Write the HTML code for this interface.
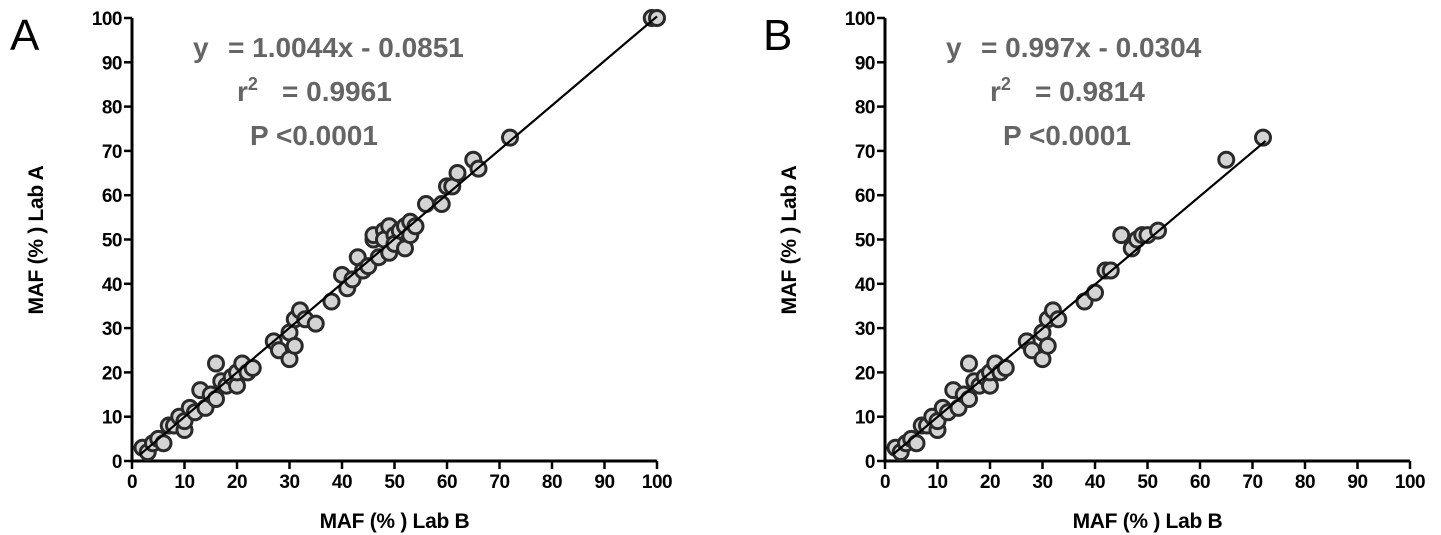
<!DOCTYPE html>
<html><head><meta charset="utf-8"><style>
body{margin:0;background:#fff;}
svg{display:block;font-family:"Liberation Sans",Arial,sans-serif;}
</style></head><body>
<svg id="c" width="1441" height="535"></svg>
<script>
const ticks=[0,10,20,30,40,50,60,70,80,90,100];
const aX=[2,3,4,5,6,7,8,9,10,10,11,12,13,14,15,16,16,17,18,19,20,20,21,22,23,27,28,30,30,31,31,32,33,35,38,40,41,42,43,44,45,46,46,47,48,48,49,49,50,50,51,52,52,53,53,54,56,59,60,61,62,65,66,72,99,100];
const aY=[3,2,4,5,4,8,8,10,7,9,12,11,16,12,15,14,22,18,17,19,17,20,22,20,21,27,25,29,23,26,32,34,32,31,36,42,39,41,46,43,44,50,51,46,52,50,47,53,51,49,52,48,53,51,54,53,58,58,62,62,65,68,66,73,100,100];
const bX=[2,3,4,5,6,7,8,9,10,10,11,12,13,14,15,16,16,17,18,19,20,20,21,22,23,27,28,30,30,31,31,32,33,38,40,42,43,45,47,48,49,50,52,65,72];
const bY=[3,2,4,5,4,8,8,10,7,9,12,11,16,12,15,14,22,18,17,19,17,20,22,20,21,27,25,29,23,26,32,34,32,36,38,43,43,51,48,50,51,51,52,68,73];
const panels=[
 {id:'a',letter:'A',x0:132,xs:aX,ys:aY,fit:[1.0044,-0.0851],fx:[1.5,100],eq:'= 1.0044x - 0.0851',r2:'= 0.9961'},
 {id:'b',letter:'B',x0:885,xs:bX,ys:bY,fit:[0.997,-0.0304],fx:[1.5,72.5],eq:'= 0.997x - 0.0304',r2:'= 0.9814'}];
const NS='http://www.w3.org/2000/svg',svg=document.getElementById('c');
function el(t,a,p){const e=document.createElementNS(NS,t);for(const k in a)e.setAttribute(k,a[k]);(p||svg).appendChild(e);return e;}
const W=525,Y0=461,H=443;
panels.forEach(p=>{
 const g=el('g',{});
 
 
 const sx=v=>p.x0+v/100*W, sy=v=>Y0-v/100*H;
 const ax=el('path',{d:`M${p.x0} 18V${Y0}H${p.x0+W}`,stroke:'#000','stroke-width':3,fill:'none'},g);
 
 
 ticks.forEach(t=>{
  el('line',{x1:sx(t),x2:sx(t),y1:Y0,y2:Y0+8,stroke:'#000','stroke-width':2.5},g);
  el('line',{x1:p.x0-8,x2:p.x0,y1:sy(t),y2:sy(t),stroke:'#000','stroke-width':2.5},g);
  const tx=el('text',{x:sx(t),y:Y0+27,'text-anchor':'middle','font-size':19,'font-weight':'bold','letter-spacing':-0.5},g);tx.textContent=t;
  
  
  const ty=el('text',{x:p.x0-10,y:sy(t)+7,'text-anchor':'end','font-size':19,'font-weight':'bold','letter-spacing':-0.5},g);ty.textContent=t;
  
  
 });
 for(let i=0;i<p.xs.length;i++){
  const c=el('circle',{cx:sx(p.xs[i]),cy:sy(p.ys[i]),r:7.5,fill:'#d4d4d4',stroke:'#2a2a2a','stroke-width':3},g);
  
  
 }
 const [m,b]=p.fit;
 const ln=el('line',{x1:sx(p.fx[0]),y1:sy(m*p.fx[0]+b),x2:sx(p.fx[1]),y2:sy(m*p.fx[1]+b),stroke:'#000','stroke-width':2.2},g);
 
 
 const L=el('text',{x:p.x0-122,y:50,'font-size':44},g);L.textContent=p.letter;
 
 
 const tg=el('g',{fill:'#656565','font-weight':'bold','font-size':28},g);
 
 
 el('text',{x:p.x0+61,y:57},tg).textContent='y';
 el('text',{x:p.x0+96,y:57},tg).textContent=p.eq;
 const r=el('text',{x:p.x0+105,y:101},tg);r.innerHTML='r<tspan dy="-11" font-size="18">2</tspan>';
 el('text',{x:p.x0+150,y:101},tg).textContent=p.r2;
 el('text',{x:p.x0+118,y:145},tg).textContent='P <0.0001';
 const xt=el('text',{x:p.x0+W/2,y:528,'text-anchor':'middle','font-size':21,'font-weight':'bold','letter-spacing':-0.3},g);xt.textContent='MAF (% ) Lab B';
 
 
 const yt=el('text',{x:0,y:0,'text-anchor':'middle','font-size':21,'font-weight':'bold','letter-spacing':-0.3,transform:`translate(${p.x0-89},240) rotate(-90)`},g);yt.textContent='MAF (% ) Lab A';
 
 
});
</script>
</body></html>
